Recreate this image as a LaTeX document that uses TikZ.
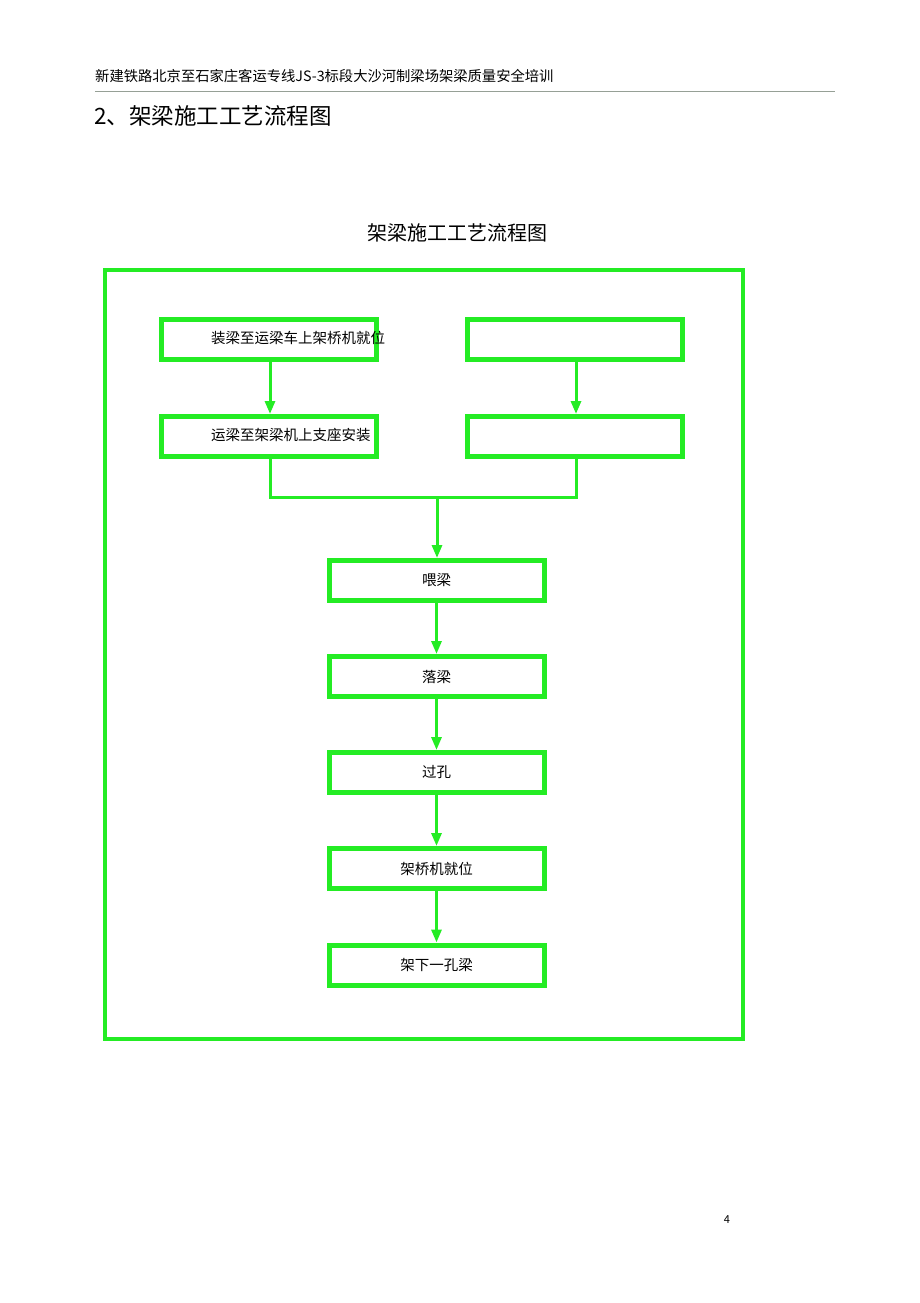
\documentclass[tikz,border=0pt]{standalone}
\usepackage{fontspec}
\setmainfont{Noto Sans CJK SC}
\usetikzlibrary{positioning}
\usetikzlibrary{calc}
\usetikzlibrary{arrows.meta}
\definecolor{lgreen}{RGB}{36,236,36}
\definecolor{rulegray}{RGB}{150,160,150}

\begin{document}
\begin{tikzpicture}
    [x=1pt, y=-1pt,
    stepbox/.style={draw=lgreen, line width=5pt, fill=white, minimum width=215pt, minimum height=40pt, inner sep=0pt, font=\fontsize{14.5pt}{16pt}\selectfont},
    boxtext/.style={anchor=west, inner sep=0pt, font=\fontsize{14.5pt}{16pt}\selectfont},
    flow/.style={draw=lgreen, line width=3pt},
    arr/.style={-{Triangle[length=13pt, width=10pt]}}]
    \useasboundingbox (0,0) rectangle (920,1303);
    %\draw[step=100pt,gray,very thin] (0,0) grid (920,1303);
    % page head
    \node[anchor=west, inner sep=0pt, font=\fontsize{14.3pt}{16pt}\selectfont] (head) at (95,76) {新建铁路北京至石家庄客运专线JS-3标段大沙河制梁场架梁质量安全培训};
    \coordinate (rl) at (95,92);
    \coordinate (rr) at (835,92);
    \draw[rulegray, line width=1pt] (rl) -- (rr);
    \node[anchor=west, inner sep=0pt, font=\fontsize{22.5pt}{24pt}\selectfont] (sec) at (94,116) {2、架梁施工工艺流程图};
    \node[inner sep=0pt, font=\fontsize{20pt}{22pt}\selectfont] (title) at (457,233) {架梁施工工艺流程图};
    % frame
    \draw[lgreen, line width=4pt] (105,270) rectangle (743,1039);
    % boxes
    \node[stepbox]  (L1) at (269,339.5)  {};
    \node[boxtext]  (t1) at (211,338)  {装梁至运梁车上架桥机就位};
    \node[stepbox]  (L2) at (269,436.5)  {};
    \node[boxtext]  (t2) at (211,435)  {运梁至架梁机上支座安装};
    \node[stepbox]  (R1) at (575,339.5)  {};
    \node[stepbox]  (R2) at (575,436.5)  {};
    \coordinate     (join) at (437,497);
    \node[stepbox]  (feed) at (436.5,580.5)  {喂梁};
    \node[stepbox]  (drop) at (436.5,676.5)  {落梁};
    \node[stepbox]  (pass) at (436.5,772.5)  {过孔};
    \node[stepbox]  (seat) at (436.5,868.5)  {架桥机就位};
    \node[stepbox]  (next) at (436.5,965)  {架下一孔梁};
    \draw[flow, arr] ([xshift=1pt]L1.south) -- ([xshift=1pt]L2.north);
    \draw[flow, arr] ([xshift=1pt]R1.south) -- ([xshift=1pt]R2.north);
    \draw[flow] ([xshift=1pt]L2.south) |- (join);
    \draw[flow] ([xshift=1pt]R2.south) |- (join);
    \draw[flow, arr] (join) -- (join |- feed.north);
    \draw[flow, arr] (feed) -- (drop);
    \draw[flow, arr] (drop) -- (pass);
    \draw[flow, arr] (pass) -- (seat);
    \draw[flow, arr] (seat) -- (next);
    % page number
    \node[inner sep=0pt, font=\fontsize{11pt}{12pt}\selectfont] (pg) at (727,1220) {4};
\end{tikzpicture}
\end{document}
